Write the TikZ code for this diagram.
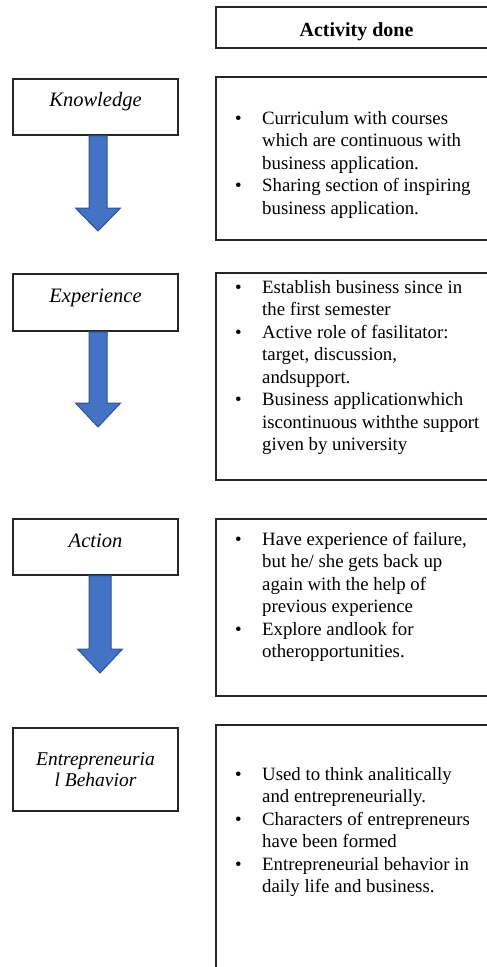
\documentclass[tikz,border=0pt]{standalone}
\usepackage{fontspec}
\setmainfont{Liberation Serif}
\usetikzlibrary{calc}
\definecolor{arrowblue}{HTML}{4472C4}
\definecolor{arrowedge}{HTML}{2F528F}
\newcommand{\itemfont}{\fontsize{18.8}{22.5}\selectfont}

\begin{document}
\begin{tikzpicture}[x=1pt,y=-1pt]
\tikzstyle{frame}=[draw=black!85,line width=1.5pt]
\tikzstyle{stage}=[frame,minimum width=165pt,minimum height=56pt,inner sep=0pt,font=\fontsize{20.5}{22}\selectfont\itshape,align=center]
\tikzstyle{listbox}=[frame,anchor=north west,inner sep=0pt,minimum width=282pt]
\tikzstyle{items}=[anchor=base west,inner sep=0pt,font=\itemfont]
\tikzstyle{flow}=[fill=arrowblue,draw=arrowedge,line width=1pt,line join=miter]
\useasboundingbox (0,0) rectangle (487,967);
% header
\node [frame,minimum width=281pt,minimum height=41pt,inner sep=0pt,font=\fontsize{20}{22}\selectfont\bfseries,text height=17pt,text depth=0pt] (head) at (356.5,27.5) {Activity done};
% stages on the left
\node [stage,text height=12pt,text depth=14pt] (know) at (95.5,107) {Knowledge};
\node [stage,text height=13pt,text depth=13pt,minimum height=57pt] (exper) at (95.5,302.5) {Experience};
\node [stage,text height=13pt,text depth=13pt] (action) at (95.5,547) {Action};
\node [stage,minimum height=83pt,font=\fontsize{19.5}{20.5}\selectfont\itshape] (entre) at (95.5,769.5) {Entrepreneuria\\l Behavior};
% boxes on the right
\node [listbox,minimum height=163pt] (list1) at (215,76) {};
\node [listbox,minimum height=207pt] (list2) at (215,272) {};
\node [listbox,minimum height=177pt] (list3) at (215,518) {};
\node [listbox,minimum height=256pt] (list4) at (215,724) {};
\node [items] (text1) at (235,124) {\begin{tabular}[t]{@{}p{27pt}@{}l@{}}
\textbullet & Curriculum with courses\\
 & which are continuous with\\
 & business application.\\
\textbullet & Sharing section of inspiring\\
 & business application.
\end{tabular}};
\node [items] (text2) at (235,293) {\begin{tabular}[t]{@{}p{27pt}@{}l@{}}
\textbullet & Establish business since in\\
 & the first semester\\
\textbullet & Active role of fasilitator:\\
 & target, discussion,\\
 & andsupport.\\
\textbullet & Business applicationwhich\\
 & iscontinuous withthe support\\
 & given by university
\end{tabular}};
\node [items] (text3) at (235,545) {\begin{tabular}[t]{@{}p{27pt}@{}l@{}}
\textbullet & Have experience of failure,\\
 & but he/ she gets back up\\
 & again with the help of\\
 & previous experience\\
\textbullet & Explore andlook for\\
 & otheropportunities.
\end{tabular}};
\node [items] (text4) at (235,780) {\begin{tabular}[t]{@{}p{27pt}@{}l@{}}
\textbullet & Used to think analitically\\
 & and entrepreneurially.\\
\textbullet & Characters of entrepreneurs\\
 & have been formed\\
\textbullet & Entrepreneurial behavior in\\
 & daily life and business.
\end{tabular}};
% block arrows
\coordinate (tip1) at (98,231);
\coordinate (tip2) at (98,427);
\coordinate (tip3) at (100,673);
\draw [flow] ($(know.south -| tip1)+(-9,0)$) -- ($(tip1)+(-9,-23)$) -- ($(tip1)+(-22.5,-23)$) -- (tip1) -- ($(tip1)+(22.5,-23)$) -- ($(tip1)+(9,-23)$) -- ($(know.south -| tip1)+(9,0)$) -- cycle;
\draw [flow] ($(exper.south -| tip2)+(-9,0)$) -- ($(tip2)+(-9,-24)$) -- ($(tip2)+(-22.5,-24)$) -- (tip2) -- ($(tip2)+(22.5,-24)$) -- ($(tip2)+(9,-24)$) -- ($(exper.south -| tip2)+(9,0)$) -- cycle;
\draw [flow] ($(action.south -| tip3)+(-11,0)$) -- ($(tip3)+(-11,-24)$) -- ($(tip3)+(-22.5,-24)$) -- (tip3) -- ($(tip3)+(22.5,-24)$) -- ($(tip3)+(11,-24)$) -- ($(action.south -| tip3)+(11,0)$) -- cycle;
\end{tikzpicture}
\end{document}
